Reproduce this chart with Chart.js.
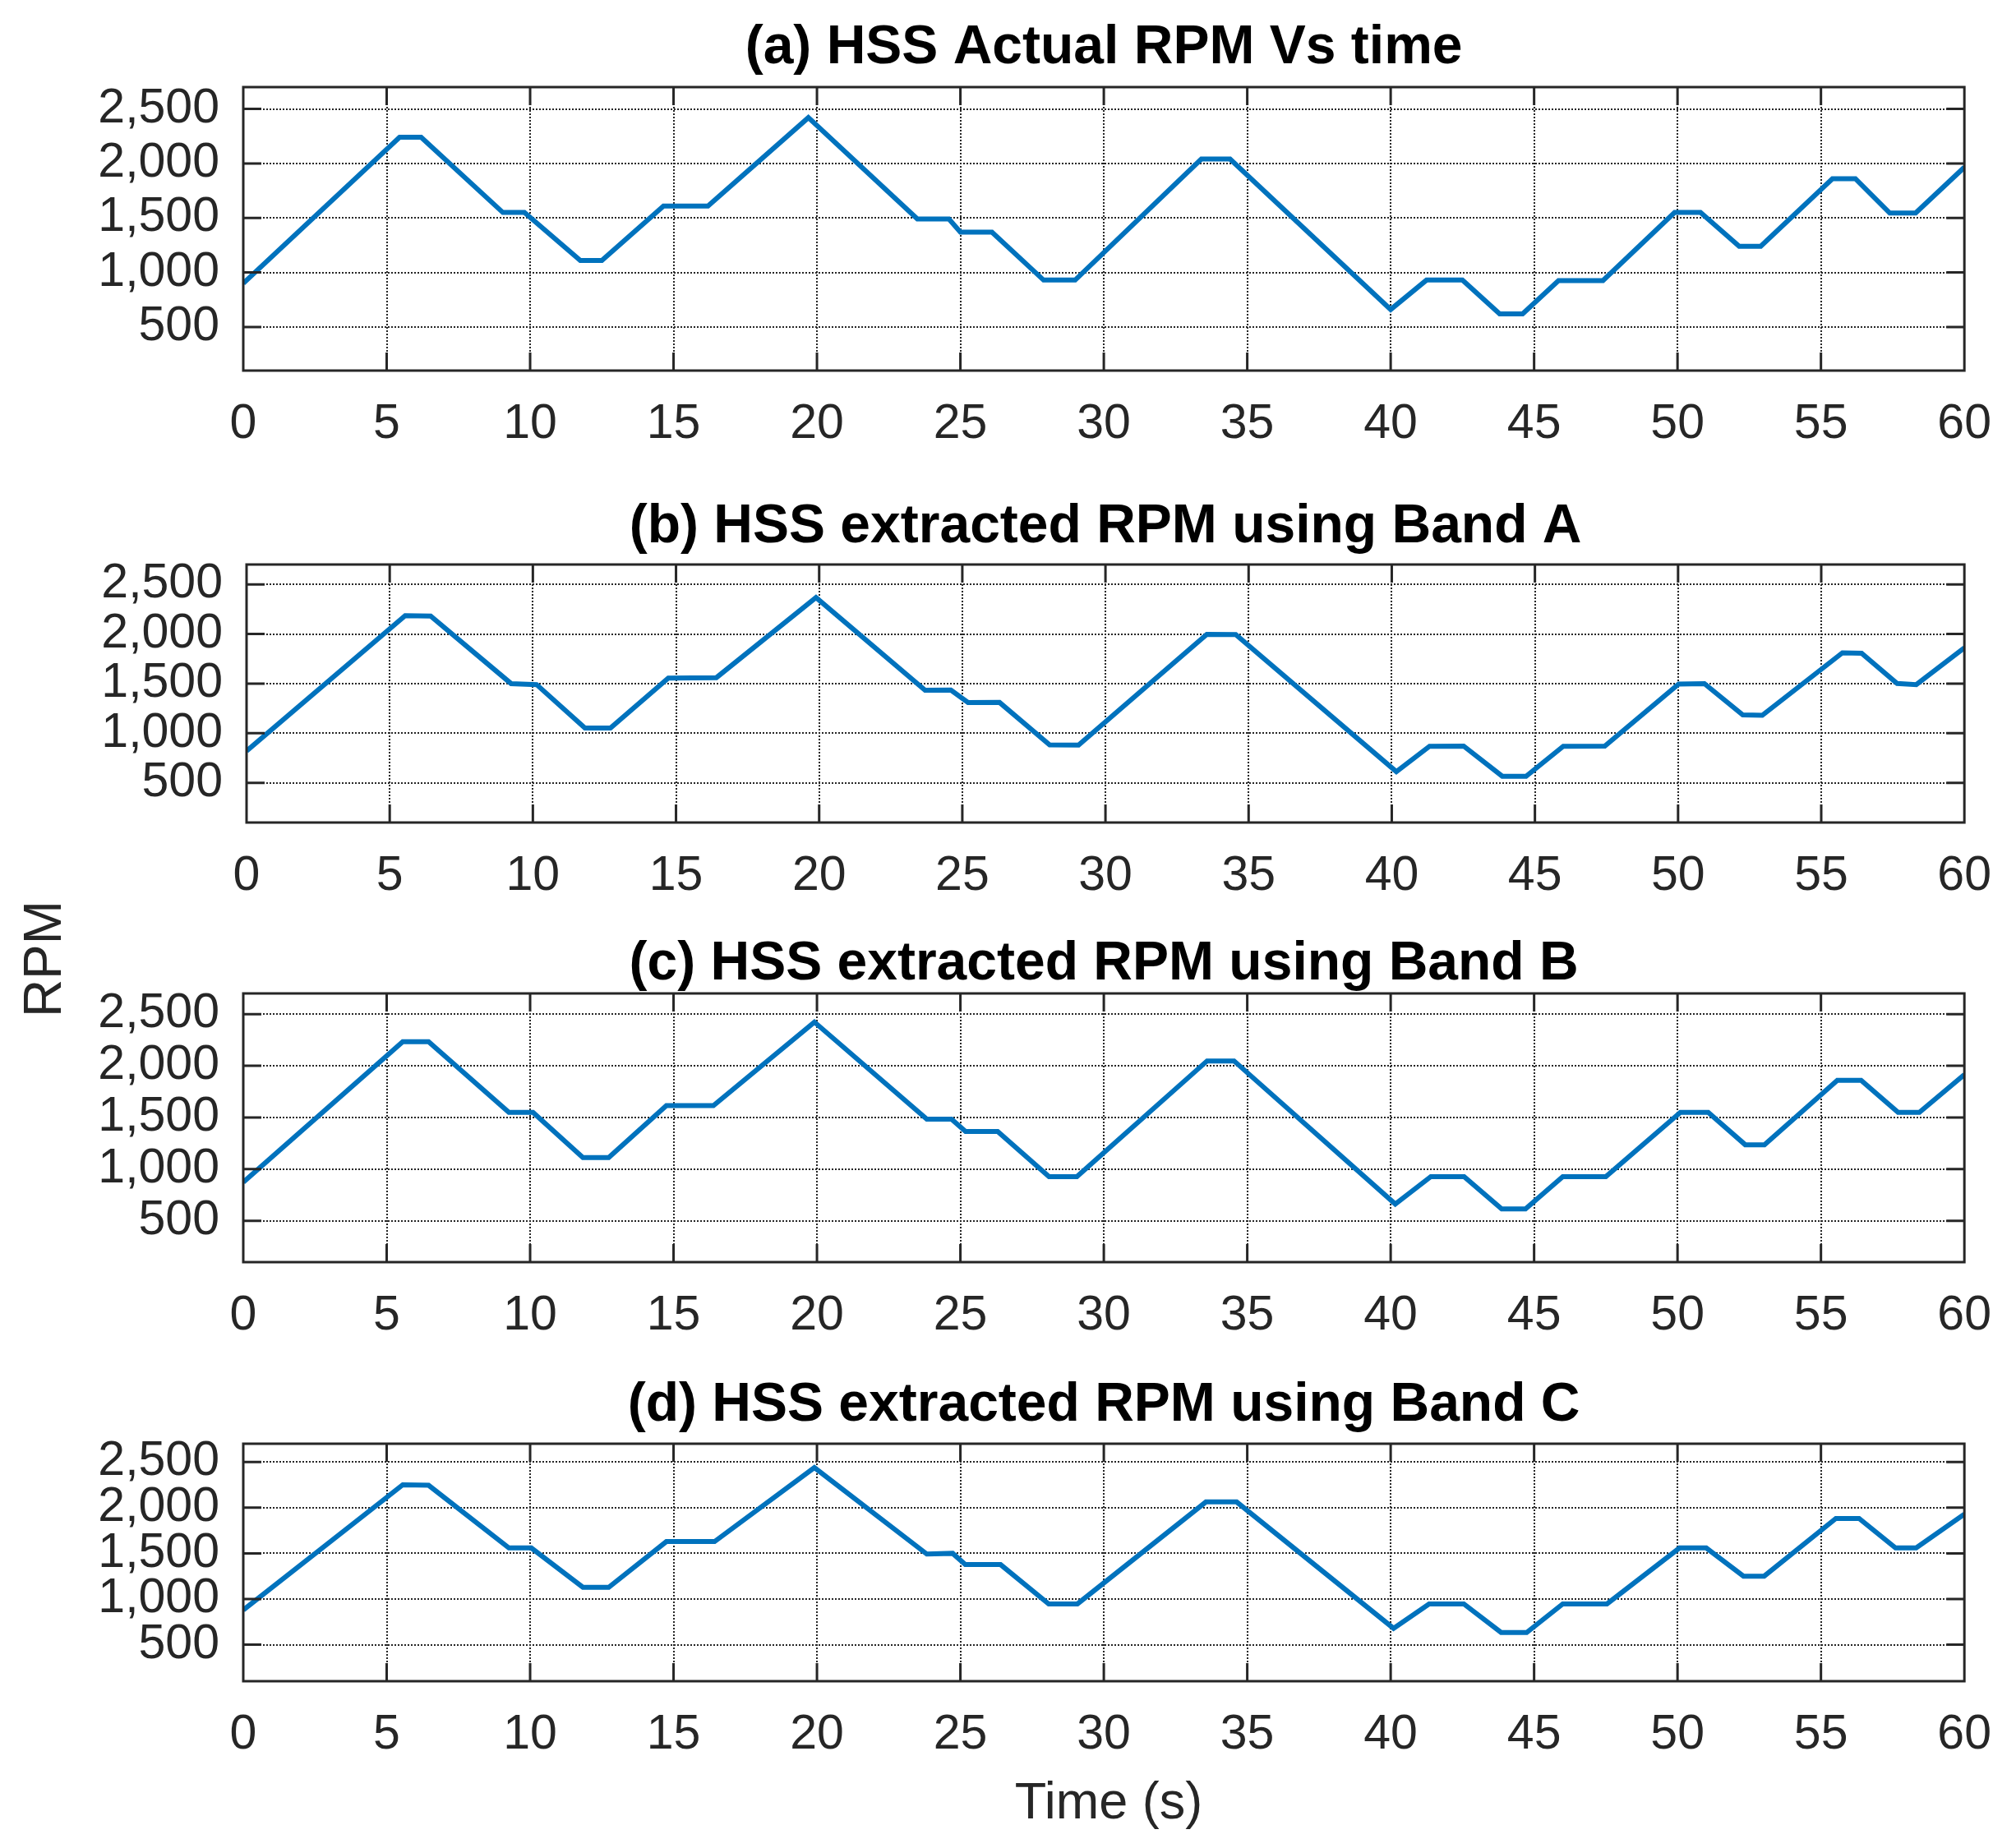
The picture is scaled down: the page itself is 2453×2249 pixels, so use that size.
<!DOCTYPE html>
<html>
<head>
<meta charset="utf-8">
<script src="https://cdn.jsdelivr.net/npm/chart.js@4.4.1/dist/chart.umd.min.js"></script>
<style>
  html, body { margin: 0; padding: 0; background: #fff; }
  body { width: 2453px; height: 2249px; position: relative; overflow: hidden;
         font-family: "Liberation Sans", Arial, sans-serif; }
  canvas { position: absolute; left: 0; }
  .lbl { position: absolute; color: #262626; font-size: 64px; line-height: 1; white-space: nowrap; }
</style>
</head>
<body>
<div class="lbl" style="left:52px; top:1167px; transform: translate(-50%,-50%) rotate(-90deg);">RPM</div>
<div class="lbl" style="left:1349px; top:2160px; font-size:63px; transform: translateX(-50%);">Time (s)</div>

<script>
// tick labels
const xTicks = [0, 5, 10, 15, 20, 25, 30, 35, 40, 45, 50, 55, 60];
const yTicks = [500, 1000, 1500, 2000, 2500];

// (a) actual RPM
const timeA = [0, 5.45, 6.2, 9.05, 9.8, 11.75, 12.5, 14.65, 16.2, 19.7, 23.5, 24.6, 25.0, 26.1, 27.9, 29.0, 33.4, 34.4, 40.0, 41.25, 42.5, 43.8, 44.6, 45.85, 47.4, 49.9, 50.8, 52.15, 52.9, 55.4, 56.2, 57.4, 58.3, 60];
const rpmA  = [900, 2240, 2240, 1550, 1550, 1110, 1110, 1610, 1610, 2420, 1490, 1490, 1370, 1370, 930, 930, 2040, 2040, 660, 930, 930, 620, 620, 925, 925, 1550, 1550, 1240, 1240, 1860, 1860, 1545, 1545, 1965];

// (b) band A
const timeB = [0, 5.54, 6.43, 9.24, 10.13, 11.82, 12.71, 14.73, 16.41, 19.89, 23.7, 24.6, 25.2, 26.3, 28.05, 29.06, 33.54, 34.55, 40.16, 41.32, 42.51, 43.86, 44.69, 45.99, 47.44, 50.02, 50.92, 52.26, 52.94, 55.74, 56.41, 57.65, 58.32, 60];
const rpmB  = [820, 2185, 2180, 1500, 1490, 1053, 1053, 1556, 1560, 2368, 1433, 1435, 1309, 1310, 882, 880, 1997, 1995, 613, 869, 870, 566, 565, 869, 870, 1496, 1500, 1185, 1180, 1810, 1805, 1501, 1490, 1860];

// (c) band B
const timeC = [0, 5.56, 6.46, 9.26, 10.1, 11.84, 12.74, 14.75, 16.39, 19.91, 23.83, 24.69, 25.18, 26.3, 28.09, 29.06, 33.6, 34.54, 40.16, 41.4, 42.56, 43.87, 44.7, 46.0, 47.5, 50.1, 51.07, 52.36, 53.03, 55.57, 56.4, 57.69, 58.43, 60];
const rpmC  = [874, 2232, 2232, 1549, 1549, 1112, 1112, 1615, 1615, 2423, 1483, 1483, 1364, 1364, 927, 927, 2047, 2047, 662, 927, 927, 614, 614, 927, 927, 1549, 1549, 1236, 1236, 1859, 1859, 1549, 1549, 1915];

// (d) band C
const timeD = [0, 5.56, 6.46, 9.26, 10.04, 11.84, 12.74, 14.75, 16.43, 19.91, 23.83, 24.73, 25.17, 26.4, 28.08, 29.08, 33.56, 34.63, 40.1, 41.34, 42.55, 43.85, 44.74, 46.0, 47.54, 50.07, 51.0, 52.3, 53.02, 55.52, 56.33, 57.6, 58.32, 60];
const rpmD  = [879, 2251, 2245, 1559, 1559, 1128, 1128, 1629, 1629, 2439, 1492, 1500, 1377, 1377, 946, 946, 2063, 2063, 679, 946, 946, 633, 633, 946, 946, 1559, 1559, 1250, 1250, 1881, 1881, 1559, 1559, 1930];

const panels = [
  { title: '(a) HSS Actual RPM Vs time',          t: timeA, v: rpmA, top: 106,  bottom: 451,  left: 296, right: 2395, gap: 29 },
  { title: '(b) HSS extracted RPM using Band A',  t: timeB, v: rpmB, top: 687,  bottom: 1001, left: 300, right: 2402, gap: 27 },
  { title: '(c) HSS extracted RPM using Band B',  t: timeC, v: rpmC, top: 1209, bottom: 1536, left: 296, right: 2395, gap: 17 },
  { title: '(d) HSS extracted RPM using Band C',  t: timeD, v: rpmD, top: 1757, bottom: 2046, left: 296, right: 2399, gap: 28 }
];

Chart.defaults.font.family = '"Liberation Sans", Arial, sans-serif';
Chart.defaults.color = '#262626';

const INK = '#262626';
const ABOVE = 100, BELOW = 110;

// frame, inward ticks and the panel title (matlab style)
const framePlugin = {
  id: 'frame',
  afterDraw(chart, args, opts) {
    const { ctx, chartArea: a, scales } = chart;
    ctx.save();
    ctx.strokeStyle = INK;
    ctx.lineWidth = 3;
    ctx.beginPath();
    yTicks.forEach(v => {
      const y = scales.y.getPixelForValue(v);
      ctx.moveTo(a.left, y); ctx.lineTo(a.left + 22, y);
      ctx.moveTo(a.right, y); ctx.lineTo(a.right - 22, y);
    });
    xTicks.slice(1, -1).forEach(v => {
      const x = scales.x.getPixelForValue(v);
      ctx.moveTo(x, a.bottom); ctx.lineTo(x, a.bottom - 22);
      ctx.moveTo(x, a.top); ctx.lineTo(x, a.top + 22);
    });
    ctx.stroke();
    ctx.strokeRect(a.left, a.top, a.right - a.left, a.bottom - a.top);

    ctx.fillStyle = '#000';
    ctx.font = 'bold 66px "Liberation Sans", Arial, sans-serif';
    ctx.textAlign = 'center';
    ctx.textBaseline = 'alphabetic';
    ctx.fillText(opts.text, (a.left + a.right) / 2, a.top - opts.gap);
    ctx.restore();
  }
};

panels.forEach(p => {
  const cv = document.createElement('canvas');
  const h = (p.bottom - p.top) + ABOVE + BELOW;
  cv.width = 2453; cv.height = h;
  cv.style.top = (p.top - ABOVE) + 'px';
  cv.style.width = '2453px'; cv.style.height = h + 'px';
  document.body.appendChild(cv);

  new Chart(cv.getContext('2d'), {
    type: 'line',
    data: {
      datasets: [{
        data: p.t.map((x, i) => ({ x: x, y: p.v[i] })),
        borderColor: '#0072BD',
        borderWidth: 6,
        pointRadius: 0,
        tension: 0,
        fill: false
      }]
    },
    options: {
      responsive: false,
      animation: false,
      devicePixelRatio: 1,
      layout: { padding: { top: ABOVE, right: 2453 - p.right, left: 0, bottom: 0 } },
      plugins: {
        legend: { display: false },
        tooltip: { enabled: false },
        frame: { text: p.title, gap: p.gap }
      },
      scales: {
        x: {
          type: 'linear', min: 0, max: 60,
          afterBuildTicks: s => { s.ticks = xTicks.map(v => ({ value: v })); },
          afterFit: s => { s.height = BELOW; },
          ticks: { font: { size: 59 }, color: INK, padding: 30, maxRotation: 0, autoSkip: false },
          grid: { color: INK, lineWidth: 2, drawTicks: false },
          border: { display: false, dash: [2, 2] }
        },
        y: {
          min: 100, max: 2700,
          afterBuildTicks: s => { s.ticks = yTicks.map(v => ({ value: v })); },
          afterFit: s => { s.width = p.left; },
          ticks: { font: { size: 59 }, color: INK, padding: 29, autoSkip: false,
                   callback: v => v.toLocaleString('en-US') },
          grid: { color: INK, lineWidth: 2, drawTicks: false },
          border: { display: false, dash: [2, 2] }
        }
      }
    },
    plugins: [framePlugin]
  });
});
</script>
</body>
</html>
